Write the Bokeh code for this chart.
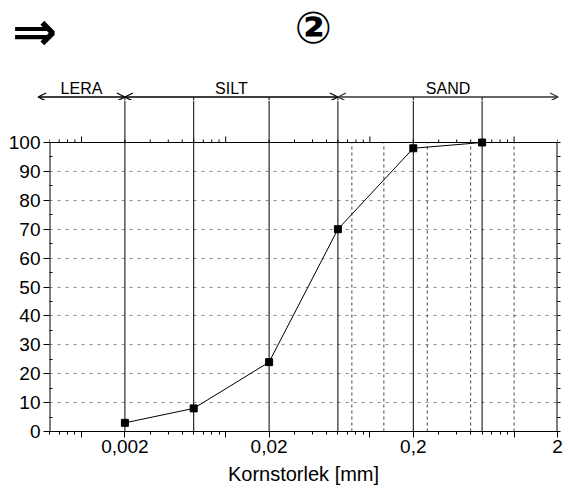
import numpy as np
from bokeh.plotting import figure
from bokeh.models import Range1d, FixedTicker, LinearAxis, Arrow, OpenHead
from bokeh.layouts import column
from bokeh.embed import file_html
from bokeh.resources import INLINE
from bokeh.core.properties import value

# ---------------- data ----------------
grain_size_mm = [0.002, 0.006, 0.02, 0.06, 0.2, 0.6]
passing_pct = [3, 8, 24, 70, 98, 100]
fraction_bounds = [0.002, 0.006, 0.02, 0.06, 0.2, 0.6]
sieve_sizes = [0.075, 0.125, 0.25, 0.5, 1.0]
band_names = ["LERA", "SILT", "SAND"]
band_edges = [0.0005, 0.002, 0.06, 2.02]
x_tick_values = [0.002, 0.02, 0.2, 2]
x_tick_labels = ["0,002", "0,02", "0,2", "2"]
x_decades = [0.001, 0.01, 0.1, 1]
y_tick_values = list(range(0, 101, 10))
y_minor_values = list(range(5, 100, 10))
y_right_ticks = list(range(0, 101, 5))
x_label = "Kornstorlek [mm]"
title_arrow = "\u21d2"
title_number = "\u2461"

# ---------------- layout constants ----------------
W, H = 568, 488
L, R, B = 49, 11, 57
TOP_H = 100                     # height of the heading strip
LINE100 = 142                   # page y of the 100 % line
X0, X1 = 0.0006, 2.0
Y0, Y1 = 0, 100
frame_w = W - L - R
px_per_dec = frame_w / np.log10(X1 / X0)
px_per_unit = (H - B - LINE100) / (Y1 - Y0)
YTOP = Y0 + (H - B - TOP_H) / px_per_unit

xt0 = X0 * 10 ** (-L / px_per_dec)
xt1 = X1 * 10 ** (R / px_per_dec)


def xt(px):          # page x -> data x in heading strip
    return xt0 * 10 ** (px / px_per_dec)


def yt(py):          # page y -> heading-strip y
    return TOP_H - py


FONT = value("Liberation Sans")

minor_x = []
for e in range(-4, 1):
    for k in range(1, 10):
        v = k * 10.0 ** e
        if X0 * 0.999 <= v <= X1 * 1.001:
            minor_x.append(float(f"{v:.6g}"))
top_minor = [v for v in minor_x if v not in x_decades]

# ================= heading strip =================
pt = figure(width=W, height=TOP_H, x_axis_type="log",
            x_range=Range1d(xt0, xt1), y_range=Range1d(0, TOP_H),
            output_backend="svg", toolbar_location=None,
            x_axis_location=None, y_axis_location=None,
            min_border=0, min_border_left=0, min_border_right=0,
            min_border_top=0, min_border_bottom=0)
pt.frame_align = False
pt.outline_line_color = None
pt.grid.visible = False
pt.background_fill_color = "white"
pt.border_fill_color = "white"

arrow_y = yt(96.5)
pt.segment(x0=fraction_bounds, y0=0, x1=fraction_bounds, y1=arrow_y,
           line_color="black", line_width=1)
for i in range(3):
    col = "black" if i < 2 else "#333333"
    pt.add_layout(Arrow(x_start=band_edges[i], x_end=band_edges[i + 1],
                        y_start=arrow_y, y_end=arrow_y,
                        line_color=col, line_width=1.3,
                        start=OpenHead(size=8, line_width=1.3, line_color=col),
                        end=OpenHead(size=8, line_width=1.3, line_color=col)))

band_x = [np.sqrt(band_edges[i] * band_edges[i + 1]) for i in range(3)]
pt.text(x=band_x, y=[yt(87.5)] * 3, text=band_names,
        text_font=FONT, text_font_size="16px", text_color="black",
        text_align="center", text_baseline="middle")

pt.text(x=[xt(34)], y=[yt(31)], text=[title_arrow],
        text_font=value("DejaVu Sans"), text_font_size="54px", text_color="black",
        text_font_style="bold", text_align="center", text_baseline="middle")
pt.text(x=[xt(313)], y=[yt(27)], text=[title_number],
        text_font=value("DejaVu Sans"), text_font_size="44px", text_color="black",
        text_font_style="bold", text_align="center", text_baseline="middle")

# ================= main plot =================
p = figure(width=W, height=H - TOP_H, x_axis_type="log",
           x_range=Range1d(X0, X1), y_range=Range1d(Y0, YTOP),
           output_backend="svg", toolbar_location=None,
           min_border_left=L, min_border_right=R, min_border_bottom=B,
           min_border_top=0)
p.frame_align = False
p.outline_line_color = None
p.background_fill_color = "white"
p.border_fill_color = "white"

xa = p.xaxis[0]
xa.ticker = FixedTicker(ticks=sorted(x_decades + x_tick_values), minor_ticks=minor_x)
overrides = {v: "" for v in x_decades}
overrides.update({v: s for v, s in zip(x_tick_values, x_tick_labels)})
xa.major_label_overrides = overrides
xa.major_tick_out = 6
xa.major_tick_in = 0
xa.minor_tick_out = 3
xa.minor_tick_in = 0
xa.major_label_standoff = 2
xa.major_label_text_font = "Liberation Sans"
xa.major_label_text_font_size = "19px"
xa.major_label_text_color = "black"
xa.axis_label = x_label
xa.axis_label_text_font = "Liberation Sans"
xa.axis_label_text_font_size = "20px"
xa.axis_label_text_font_style = "normal"
xa.axis_label_text_color = "black"
xa.axis_label_standoff = 7
xa.axis_line_color = "black"
xa.major_tick_line_color = "black"
xa.minor_tick_line_color = "black"

ya = p.yaxis[0]
ya.ticker = FixedTicker(ticks=y_tick_values, minor_ticks=y_minor_values)
ya.major_tick_out = 6
ya.major_tick_in = 0
ya.minor_tick_in = 3
ya.minor_tick_out = 0
ya.major_label_standoff = 3
ya.major_label_text_font = "Liberation Sans"
ya.major_label_text_font_size = "19px"
ya.major_label_text_color = "black"
ya.axis_line_color = None
ya.major_tick_line_color = "black"
ya.minor_tick_line_color = "black"

ra = LinearAxis(ticker=FixedTicker(ticks=y_right_ticks, minor_ticks=[]),
                major_tick_out=3, major_tick_in=0,
                minor_tick_out=0, minor_tick_in=0,
                major_label_text_font_size="0px", major_label_text_alpha=0,
                major_label_standoff=0, axis_line_color=None,
                major_tick_line_color="black")
p.add_layout(ra, "right")

p.xgrid.visible = False
p.ygrid.grid_line_color = "#8c8c8c"
p.ygrid.grid_line_dash = "3 5"
p.ygrid.grid_line_width = 1

# plot box: left, right and top edges
p.segment(x0=[X0, X1], y0=[Y0, Y0], x1=[X0, X1], y1=[Y1, Y1],
          line_color="black", line_width=2)
p.segment(x0=[X0], y0=[Y1], x1=[X1], y1=[Y1], line_color="black", line_width=1)

# top axis ticks
p.segment(x0=x_decades, y0=Y1, x1=x_decades, y1=Y1 + 6 / px_per_unit,
          line_color="black", line_width=1)
p.segment(x0=top_minor, y0=Y1, x1=top_minor, y1=Y1 + 3 / px_per_unit,
          line_color="black", line_width=1)

# vertical lines
p.segment(x0=sieve_sizes, y0=Y0, x1=sieve_sizes, y1=Y1,
          line_color="#444444", line_width=1, line_dash="3 3")
p.segment(x0=fraction_bounds, y0=Y0, x1=fraction_bounds, y1=YTOP,
          line_color="black", line_width=1)

# data
p.line(grain_size_mm, passing_pct, line_color="black", line_width=1)
p.scatter(grain_size_mm, passing_pct, marker="square", size=7, color="black")

layout = column(pt, p, spacing=0)
open("out.html", "w").write(file_html(layout, INLINE))
